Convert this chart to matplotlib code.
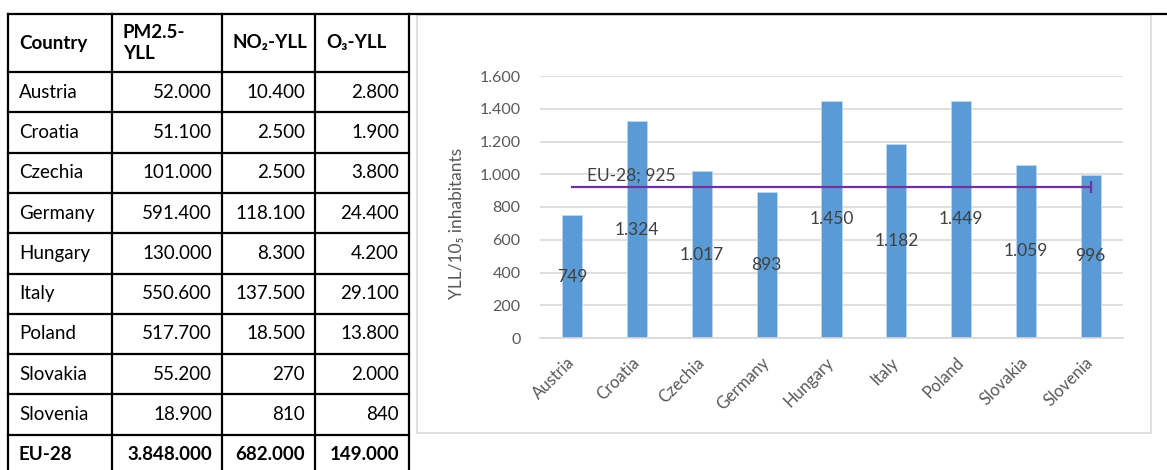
import matplotlib
matplotlib.use('Agg')
import matplotlib.pyplot as plt
from matplotlib.patches import Rectangle
from matplotlib.lines import Line2D

plt.rcParams['font.family'] = ['Lato', 'DejaVu Sans']

# table data
headers = ['Country', 'PM2.5-\nYLL', 'NO\u2082-YLL', 'O\u2083-YLL']
countries = ['Austria', 'Croatia', 'Czechia', 'Germany', 'Hungary', 'Italy', 'Poland', 'Slovakia', 'Slovenia']
pm25_yll = [52000, 51100, 101000, 591400, 130000, 550600, 517700, 55200, 18900]
no2_yll = [10400, 2500, 2500, 118100, 8300, 137500, 18500, 270, 810]
o3_yll = [2800, 1900, 3800, 24400, 4200, 29100, 13800, 2000, 840]
eu_label = 'EU-28'
eu_totals = [3848000, 682000, 149000]

# chart data
yll_rate = [749, 1324, 1017, 893, 1450, 1182, 1449, 1059, 996]
eu_rate = 925


def fmt(v):
    return f"{v:,}".replace(',', '.')


W, H = 1167, 470
fig = plt.figure(figsize=(W / 100, H / 100), dpi=100)

# overlay in pixel units for the table and frames
ov = fig.add_axes([0, 0, 1, 1])
ov.set_xlim(0, W)
ov.set_ylim(H, 0)
ov.axis('off')

col_x = [8, 112, 222, 315, 409]
row_y = [14, 72]
for i in range(10):
    row_y.append(72 + 40.3 * (i + 1))

lw = 1.6
for x in col_x:
    ov.add_line(Line2D([x, x], [row_y[0], row_y[-1]], color='black', lw=lw))
for y in row_y[1:]:
    ov.add_line(Line2D([col_x[0], col_x[-1]], [y, y], color='black', lw=lw))
# top border runs across the whole page
ov.add_line(Line2D([col_x[0], W], [row_y[0], row_y[0]], color='black', lw=lw))

fs = 13.5
hy = (row_y[0] + row_y[1]) / 2
for j, h in enumerate(headers):
    ov.text(col_x[j] + 11, hy, h, ha='left', va='center', fontsize=fs,
            fontweight='bold', linespacing=1.25)

rows = [[c, fmt(a), fmt(b), fmt(d)] for c, a, b, d in zip(countries, pm25_yll, no2_yll, o3_yll)]
rows.append([eu_label] + [fmt(v) for v in eu_totals])
for i, r in enumerate(rows):
    cy = (row_y[i + 1] + row_y[i + 2]) / 2
    bold = 'bold' if i == len(rows) - 1 else 'normal'
    ov.text(col_x[0] + 11, cy, r[0], ha='left', va='center', fontsize=fs, fontweight=bold)
    for j in range(1, 4):
        ov.text(col_x[j + 1] - 10, cy, r[j], ha='right', va='center', fontsize=fs, fontweight=bold)

# chart frame
ov.add_patch(Rectangle((417, 15), 1151 - 417, 433 - 15, fill=False, ec='#D9D9D9', lw=1.2))

# bar chart
ax = fig.add_axes([540 / W, 1 - 338 / H, 583 / W, 262 / H])
x = list(range(len(countries)))
ax.bar(x, yll_rate, width=0.31, color='#5B9BD5', edgecolor='#BDD7EE', linewidth=0.6, zorder=2)
for xi, v in zip(x, yll_rate):
    ax.text(xi, v / 2, fmt(v), ha='center', va='center', fontsize=12.5, color='#404040', zorder=3)

ax.plot([x[0], x[-1]], [eu_rate, eu_rate], color='#7030A0', lw=1.6, zorder=3)
ax.plot([x[-1]], [eu_rate], marker='|', color='#7030A0', markersize=9, mew=1.6, zorder=3)
ax.text(0.22, eu_rate + 68, 'EU-28; ' + str(eu_rate), ha='left', va='center',
        fontsize=12.5, color='#404040', zorder=3)

ax.set_xlim(-0.5, len(countries) - 0.5)
ax.set_ylim(0, 1600)
ax.set_yticks(range(0, 1601, 200))
ax.set_yticklabels([fmt(v) for v in range(0, 1601, 200)])
ax.grid(axis='y', color='#D9D9D9', lw=1.2, zorder=0)
ax.set_axisbelow(True)
for s in ['top', 'right', 'left']:
    ax.spines[s].set_visible(False)
ax.spines['bottom'].set_color('#D9D9D9')
ax.spines['bottom'].set_linewidth(1.2)
ax.tick_params(axis='both', length=0, colors='#595959', labelsize=11.5)
ax.tick_params(axis='y', pad=14)
ax.tick_params(axis='x', pad=16, labelsize=12)
ax.set_xticks(x)
ax.set_xticklabels(countries, rotation=45, ha='right', va='center', rotation_mode='anchor')
ax.set_ylabel('YLL/10\u2085 inhabitants', fontsize=12.5, color='#595959')
ax.yaxis.set_label_coords((465 - 540) / 583, 1 - (223 - 76) / 262)

fig.savefig('out.png', dpi=100)
